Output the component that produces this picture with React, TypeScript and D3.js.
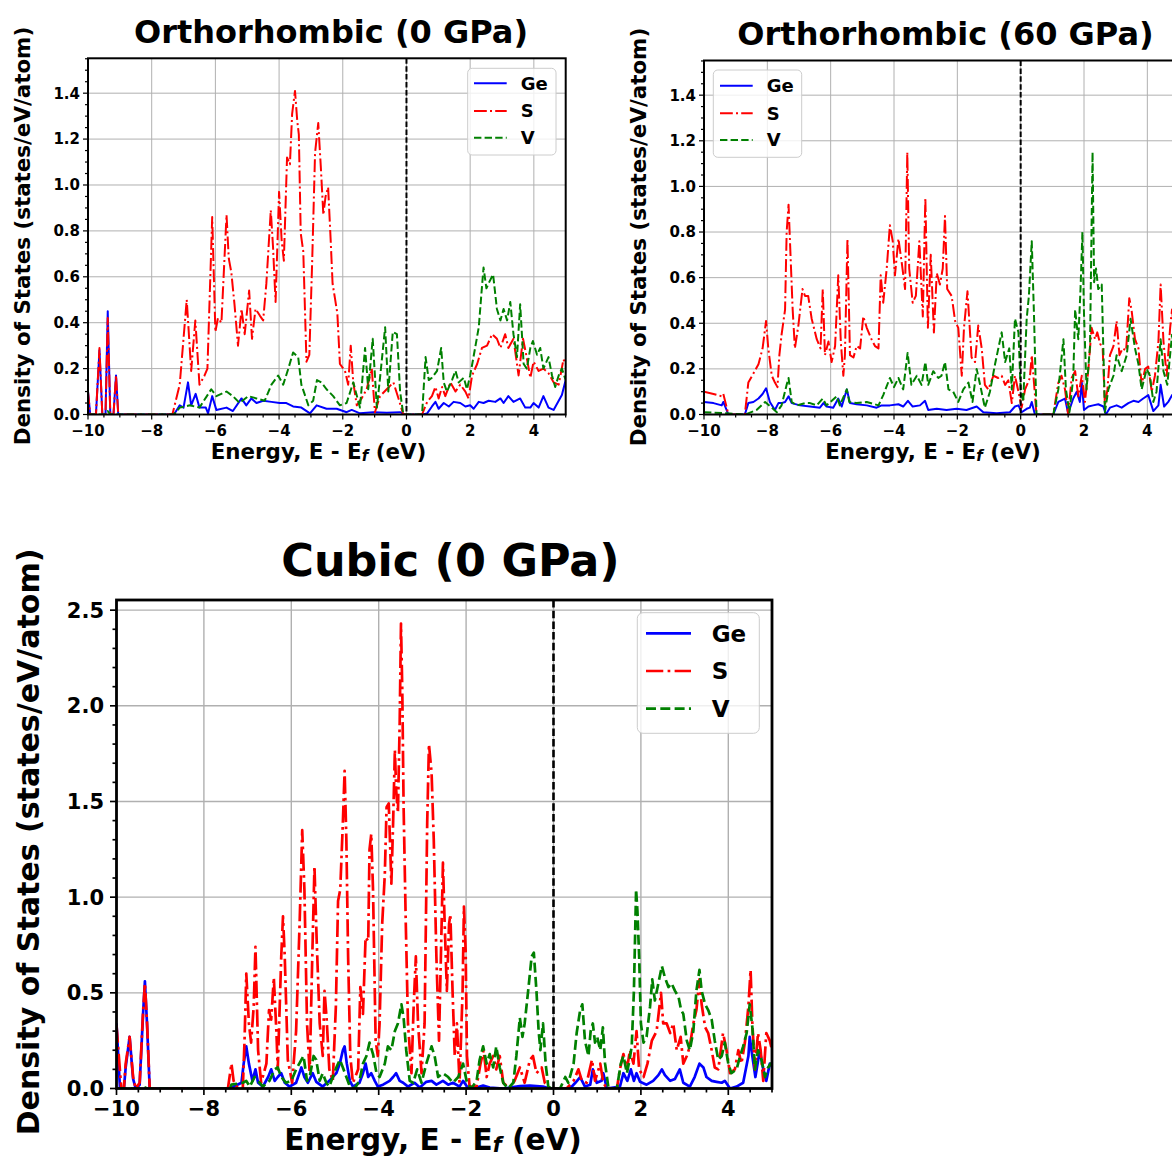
import React from 'react';
import * as d3 from 'd3';

type Pt = [number, number];

// ---- Orthorhombic (0 GPa) ----
const ortho0Ge: Pt[] = [
  [-10, 0.1], [-9.93, 0], [-9.75, 0], [-9.64, 0.28], [-9.55, 0], [-9.45, 0], [-9.38, 0.45], [-9.3, 0], [-9.2, 0],
  [-9.12, 0.17], [-9.05, 0], [-7.3, 0], [-7.12, 0.04], [-7.0, 0.03], [-6.86, 0.14], [-6.76, 0.04], [-6.62, 0.09],
  [-6.5, 0.03], [-6.3, 0.03], [-6.23, 0.005], [-6.1, 0.08], [-5.97, 0.02], [-5.65, 0.03], [-5.45, 0.015], [-5.18, 0.07],
  [-5.03, 0.04], [-4.87, 0.07], [-4.71, 0.05], [-4.5, 0.06], [-4.24, 0.055], [-3.98, 0.05], [-3.77, 0.05], [-3.56, 0.035],
  [-3.3, 0.03], [-3.03, 0.005], [-2.82, 0.04], [-2.51, 0.025], [-2.19, 0.025], [-1.88, 0.01], [-1.72, 0.02], [-1.46, 0.005],
  [-1.04, 0.01], [-0.62, 0.008], [-0.2, 0.01], [-0.05, 0], [0.49, 0], [0.65, 0.005], [0.8, 0.035], [0.91, 0.055],
  [1.01, 0.025], [1.17, 0.05], [1.33, 0.035], [1.48, 0.055], [1.69, 0.05], [1.85, 0.035], [2.0, 0.04], [2.11, 0.025],
  [2.27, 0.055], [2.42, 0.05], [2.58, 0.06], [2.79, 0.055], [2.95, 0.07], [3.05, 0.05], [3.2, 0.08], [3.36, 0.055],
  [3.57, 0.07], [3.73, 0.03], [3.89, 0.03], [3.99, 0.05], [4.15, 0.03], [4.3, 0.08], [4.46, 0.03], [4.62, 0.02],
  [4.78, 0.06], [4.88, 0.085], [5.0, 0.15],
];
const ortho0S: Pt[] = [
  [-10, 0.1], [-9.93, 0], [-9.75, 0], [-9.64, 0.29], [-9.55, 0], [-9.45, 0], [-9.38, 0.42], [-9.3, 0], [-9.2, 0],
  [-9.12, 0.17], [-9.05, 0], [-7.35, 0], [-7.12, 0.13], [-6.9, 0.5], [-6.76, 0.19], [-6.63, 0.41], [-6.5, 0.13],
  [-6.34, 0.17], [-6.25, 0.2], [-6.1, 0.86], [-6.0, 0.36], [-5.92, 0.42], [-5.81, 0.4], [-5.65, 0.87], [-5.58, 0.68],
  [-5.5, 0.62], [-5.4, 0.48], [-5.29, 0.3], [-5.18, 0.46], [-5.08, 0.35], [-4.94, 0.54], [-4.85, 0.33], [-4.74, 0.46],
  [-4.6, 0.43], [-4.5, 0.41], [-4.4, 0.57], [-4.26, 0.89], [-4.19, 0.73], [-4.11, 0.49], [-4.0, 0.97], [-3.92, 0.76],
  [-3.85, 0.67], [-3.75, 1.12], [-3.66, 1.09], [-3.59, 1.31], [-3.5, 1.41], [-3.43, 1.28], [-3.38, 1.22], [-3.32, 0.79],
  [-3.24, 0.71], [-3.14, 0.23], [-3.05, 0.26], [-2.96, 0.67], [-2.87, 1.14], [-2.77, 1.27], [-2.69, 1.08], [-2.61, 0.87],
  [-2.54, 0.95], [-2.46, 0.99], [-2.38, 0.76], [-2.32, 0.57], [-2.25, 0.51], [-2.17, 0.44], [-2.09, 0.22], [-1.93, 0.19],
  [-1.83, 0.13], [-1.75, 0.3], [-1.67, 0.14], [-1.56, 0.04], [-1.41, 0.07], [-1.25, 0.11], [-1.09, 0.2], [-0.99, 0.01],
  [-0.83, 0.08], [-0.62, 0.11], [-0.41, 0.14], [-0.25, 0.07], [-0.1, 0], [0.49, 0], [0.65, 0.055], [0.8, 0.08],
  [0.91, 0.12], [1.01, 0.07], [1.12, 0.12], [1.22, 0.08], [1.38, 0.14], [1.54, 0.1], [1.69, 0.13], [1.85, 0.1],
  [1.95, 0.07], [2.06, 0.17], [2.22, 0.22], [2.37, 0.29], [2.53, 0.3], [2.69, 0.35], [2.84, 0.33], [2.95, 0.29],
  [3.1, 0.35], [3.2, 0.29], [3.36, 0.33], [3.52, 0.17], [3.66, 0.33], [3.76, 0.26], [3.89, 0.16], [3.99, 0.23],
  [4.15, 0.19], [4.3, 0.2], [4.46, 0.18], [4.62, 0.14], [4.78, 0.13], [4.93, 0.24], [5.0, 0.22],
];
const ortho0V: Pt[] = [
  [-10, 0], [-9.45, 0], [-9.38, 0.015], [-9.3, 0], [-7.3, 0], [-7.12, 0.03], [-6.8, 0.04], [-6.5, 0.03], [-6.13, 0.11],
  [-5.97, 0.08], [-5.65, 0.1], [-5.45, 0.08], [-5.24, 0.05], [-4.97, 0.08], [-4.71, 0.07], [-4.45, 0.06], [-4.24, 0.13],
  [-4.03, 0.17], [-3.87, 0.13], [-3.71, 0.2], [-3.56, 0.27], [-3.4, 0.25], [-3.3, 0.13], [-3.08, 0.04], [-2.93, 0.06],
  [-2.81, 0.15], [-2.67, 0.14], [-2.51, 0.11], [-2.3, 0.08], [-2.09, 0.04], [-1.88, 0.05], [-1.67, 0.14], [-1.46, 0.03],
  [-1.3, 0.29], [-1.2, 0.11], [-1.06, 0.33], [-0.93, 0.03], [-0.83, 0.16], [-0.67, 0.38], [-0.57, 0.1], [-0.43, 0.36],
  [-0.3, 0.35], [-0.2, 0.1], [-0.1, 0], [0.49, 0], [0.6, 0.25], [0.7, 0.15], [0.8, 0.16], [0.96, 0.19], [1.09, 0.29],
  [1.17, 0.14], [1.27, 0.1], [1.43, 0.15], [1.54, 0.19], [1.64, 0.14], [1.8, 0.16], [1.9, 0.11], [2.0, 0.17],
  [2.13, 0.27], [2.27, 0.38], [2.35, 0.52], [2.42, 0.64], [2.51, 0.55], [2.61, 0.58], [2.72, 0.61], [2.84, 0.46],
  [2.95, 0.41], [3.05, 0.46], [3.16, 0.41], [3.26, 0.49], [3.36, 0.35], [3.47, 0.25], [3.57, 0.48], [3.68, 0.22],
  [3.78, 0.2], [3.89, 0.29], [3.97, 0.32], [4.1, 0.26], [4.2, 0.29], [4.3, 0.2], [4.46, 0.25], [4.57, 0.17],
  [4.67, 0.12], [4.78, 0.17], [4.88, 0.2], [5.0, 0.15],
];

// ---- Orthorhombic (60 GPa) ----
const ortho60Ge: Pt[] = [
  [-10, 0.055], [-9.7, 0.05], [-9.44, 0.04], [-9.39, 0.055], [-9.23, 0], [-8.71, 0], [-8.6, 0.05], [-8.44, 0.055],
  [-8.28, 0.07], [-8.15, 0.09], [-8.04, 0.115], [-7.92, 0.055], [-7.76, 0.02], [-7.65, 0.05], [-7.55, 0.05],
  [-7.44, 0.055], [-7.33, 0.08], [-7.23, 0.05], [-6.97, 0.04], [-6.65, 0.035], [-6.34, 0.03], [-6.23, 0.05],
  [-6.13, 0.035], [-5.92, 0.03], [-5.76, 0.07], [-5.65, 0.035], [-5.49, 0.11], [-5.39, 0.05], [-5.18, 0.045],
  [-4.86, 0.04], [-4.55, 0.03], [-4.39, 0.04], [-4.13, 0.04], [-3.86, 0.045], [-3.71, 0.035], [-3.56, 0.06],
  [-3.41, 0.035], [-3.18, 0.04], [-3.02, 0.06], [-2.92, 0.02], [-2.65, 0.025], [-2.34, 0.02], [-2.02, 0.025],
  [-1.71, 0.02], [-1.39, 0.035], [-1.18, 0.01], [-0.76, 0.006], [-0.34, 0.01], [-0.18, 0.035], [-0.07, 0.04],
  [0.03, 0.01], [0.19, 0.025], [0.29, 0.03], [0.35, 0.055], [0.45, 0], [1.03, 0], [1.19, 0.055], [1.4, 0.07],
  [1.5, 0.005], [1.66, 0.07], [1.77, 0.1], [1.87, 0.055], [1.93, 0.14], [2.0, 0.02], [2.14, 0.035], [2.29, 0.04],
  [2.45, 0.045], [2.61, 0.035], [2.69, 0], [2.82, 0.03], [3.03, 0.04], [3.19, 0.03], [3.4, 0.05], [3.56, 0.06],
  [3.72, 0.055], [3.87, 0.07], [4.03, 0.085], [4.19, 0.015], [4.35, 0.04], [4.42, 0.13], [4.53, 0.035], [4.66, 0.055],
  [4.78, 0.085], [5.0, 0.06],
];
const ortho60S: Pt[] = [
  [-10, 0.1], [-9.7, 0.09], [-9.44, 0.08], [-9.39, 0.09], [-9.23, 0], [-8.71, 0], [-8.6, 0.14], [-8.44, 0.18],
  [-8.28, 0.22], [-8.15, 0.29], [-8.04, 0.41], [-7.97, 0.29], [-7.86, 0.17], [-7.76, 0.14], [-7.68, 0.12],
  [-7.62, 0.26], [-7.55, 0.35], [-7.44, 0.46], [-7.39, 0.8], [-7.33, 0.92], [-7.26, 0.67], [-7.2, 0.46], [-7.13, 0.29],
  [-7.02, 0.39], [-6.89, 0.55], [-6.81, 0.52], [-6.71, 0.52], [-6.6, 0.42], [-6.44, 0.33], [-6.32, 0.29], [-6.25, 0.55],
  [-6.18, 0.26], [-6.07, 0.32], [-5.97, 0.23], [-5.86, 0.3], [-5.76, 0.61], [-5.68, 0.32], [-5.6, 0.17], [-5.55, 0.26],
  [-5.47, 0.77], [-5.39, 0.26], [-5.28, 0.25], [-5.18, 0.3], [-5.07, 0.29], [-4.97, 0.43], [-4.86, 0.38], [-4.71, 0.33],
  [-4.6, 0.3], [-4.49, 0.29], [-4.42, 0.61], [-4.34, 0.49], [-4.23, 0.64], [-4.13, 0.83], [-4.04, 0.76], [-3.97, 0.61],
  [-3.86, 0.77], [-3.76, 0.67], [-3.65, 0.55], [-3.58, 1.15], [-3.52, 0.64], [-3.41, 0.49], [-3.31, 0.52], [-3.2, 0.76],
  [-3.09, 0.43], [-3.01, 0.95], [-2.93, 0.38], [-2.84, 0.7], [-2.74, 0.36], [-2.65, 0.62], [-2.55, 0.57], [-2.46, 0.64],
  [-2.39, 0.87], [-2.32, 0.55], [-2.18, 0.52], [-2.07, 0.41], [-1.97, 0.38], [-1.86, 0.17], [-1.79, 0.38], [-1.68, 0.54],
  [-1.55, 0.25], [-1.44, 0.23], [-1.34, 0.39], [-1.23, 0.29], [-1.13, 0.13], [-1.02, 0.11], [-0.86, 0.17], [-0.71, 0.16],
  [-0.6, 0.17], [-0.49, 0.13], [-0.39, 0.15], [-0.28, 0.05], [-0.18, 0.17], [-0.07, 0.1], [0.03, 0.03], [0.14, 0.11],
  [0.29, 0.16], [0.35, 0.26], [0.42, 0.14], [0.5, 0], [1.03, 0], [1.19, 0.14], [1.29, 0.17], [1.4, 0.11], [1.5, 0],
  [1.61, 0.16], [1.72, 0.19], [1.82, 0.08], [1.93, 0.17], [2.03, 0.055], [2.14, 0.2], [2.24, 0.38], [2.35, 0.33],
  [2.42, 0.36], [2.51, 0.31], [2.59, 0.29], [2.66, 0.04], [2.74, 0.11], [2.82, 0.26], [2.93, 0.3], [3.03, 0.41],
  [3.12, 0.26], [3.22, 0.29], [3.33, 0.28], [3.43, 0.51], [3.5, 0.46], [3.61, 0.33], [3.72, 0.29], [3.82, 0.13],
  [3.93, 0.2], [4.03, 0.21], [4.14, 0.1], [4.24, 0.17], [4.35, 0.32], [4.42, 0.57], [4.51, 0.32], [4.61, 0.17],
  [4.72, 0.38], [4.78, 0.46], [4.9, 0.3], [5.0, 0.25],
];
const ortho60V: Pt[] = [
  [-10, 0.01], [-9.28, 0.005], [-8.7, 0], [-8.34, 0.02], [-8.07, 0.055], [-7.86, 0.03], [-7.7, 0.01], [-7.55, 0.04],
  [-7.39, 0.13], [-7.33, 0.16], [-7.23, 0.055], [-7.07, 0.04], [-6.81, 0.05], [-6.65, 0.05], [-6.44, 0.04],
  [-6.25, 0.07], [-6.13, 0.04], [-5.81, 0.08], [-5.71, 0.04], [-5.49, 0.11], [-5.41, 0.055], [-5.18, 0.05],
  [-4.86, 0.055], [-4.49, 0.04], [-4.34, 0.085], [-4.13, 0.16], [-4.0, 0.12], [-3.86, 0.16], [-3.71, 0.11],
  [-3.57, 0.27], [-3.45, 0.13], [-3.28, 0.17], [-3.13, 0.13], [-3.01, 0.23], [-2.92, 0.13], [-2.76, 0.19],
  [-2.6, 0.16], [-2.5, 0.17], [-2.39, 0.23], [-2.28, 0.11], [-2.13, 0.1], [-1.97, 0.055], [-1.81, 0.11], [-1.65, 0.14],
  [-1.52, 0.055], [-1.39, 0.2], [-1.28, 0.13], [-1.13, 0.03], [-0.97, 0.1], [-0.81, 0.22], [-0.6, 0.36], [-0.49, 0.23],
  [-0.36, 0.29], [-0.28, 0.11], [-0.18, 0.42], [-0.07, 0.36], [0.0, 0.11], [0.08, 0.055], [0.19, 0.42], [0.26, 0.52],
  [0.35, 0.76], [0.42, 0.44], [0.5, 0], [1.03, 0], [1.19, 0.11], [1.35, 0.33], [1.43, 0.11], [1.54, 0.01],
  [1.66, 0.16], [1.72, 0.46], [1.82, 0.33], [1.89, 0.55], [1.95, 0.8], [2.0, 0.44], [2.08, 0.11], [2.19, 0.3],
  [2.27, 1.15], [2.32, 0.58], [2.38, 0.64], [2.45, 0.55], [2.56, 0.57], [2.66, 0.01], [2.77, 0.11], [2.93, 0.17],
  [3.03, 0.26], [3.19, 0.19], [3.35, 0.26], [3.47, 0.42], [3.61, 0.29], [3.72, 0.22], [3.82, 0.11], [3.98, 0.2],
  [4.08, 0.17], [4.19, 0.055], [4.29, 0.1], [4.42, 0.33], [4.51, 0.19], [4.63, 0.13], [4.78, 0.35], [4.9, 0.25],
  [5.0, 0.2],
];

// ---- Cubic (0 GPa) ----
const cubicGe: Pt[] = [
  [-10, 0.34], [-9.92, 0], [-9.83, 0], [-9.79, 0.11], [-9.7, 0.27], [-9.62, 0.05], [-9.56, 0], [-9.47, 0.02],
  [-9.39, 0.4], [-9.35, 0.56], [-9.3, 0.33], [-9.24, 0], [-7.41, 0], [-7.14, 0.03], [-7.09, 0.13], [-7.03, 0.22],
  [-6.97, 0.13], [-6.89, 0.04], [-6.82, 0.1], [-6.76, 0.03], [-6.65, 0.01], [-6.53, 0.06], [-6.46, 0.1], [-6.38, 0.04],
  [-6.31, 0.06], [-6.23, 0.08], [-6.15, 0.03], [-6.04, 0.01], [-5.89, 0.03], [-5.77, 0.11], [-5.7, 0.06], [-5.62, 0.03],
  [-5.51, 0.08], [-5.43, 0.035], [-5.28, 0.01], [-5.13, 0.04], [-4.97, 0.08], [-4.89, 0.13], [-4.82, 0.2], [-4.78, 0.22],
  [-4.73, 0.13], [-4.66, 0.04], [-4.59, 0.01], [-4.44, 0.03], [-4.36, 0.08], [-4.3, 0.13], [-4.24, 0.06], [-4.17, 0.08],
  [-4.09, 0.04], [-4.02, 0.01], [-3.9, 0.02], [-3.75, 0.04], [-3.67, 0.06], [-3.6, 0.08], [-3.52, 0.04], [-3.44, 0.03],
  [-3.33, 0.01], [-3.18, 0.03], [-3.06, 0.005], [-2.91, 0.035], [-2.79, 0.04], [-2.68, 0.02], [-2.53, 0.04],
  [-2.41, 0.02], [-2.3, 0.03], [-2.15, 0.01], [-2.07, 0.04], [-1.98, 0.01], [-1.76, 0.005], [-1.61, 0.015],
  [-1.46, 0.005], [-1.15, 0], [-0.77, 0.012], [-0.54, 0.015], [-0.24, 0.01], [-0.08, 0], [0.38, 0], [0.5, 0.03],
  [0.61, 0.06], [0.72, 0.01], [0.84, 0.02], [0.9, 0.1], [0.99, 0.03], [1.1, 0.04], [1.14, 0.08], [1.22, 0],
  [1.52, 0.01], [1.6, 0.08], [1.69, 0.04], [1.77, 0.1], [1.84, 0.04], [1.9, 0.08], [1.98, 0.035], [2.13, 0.02],
  [2.28, 0.04], [2.4, 0.07], [2.48, 0.1], [2.55, 0.07], [2.67, 0.04], [2.78, 0.05], [2.89, 0.1], [2.97, 0.03],
  [3.12, 0.01], [3.23, 0.06], [3.34, 0.13], [3.43, 0.11], [3.5, 0.06], [3.62, 0.04], [3.73, 0.035], [3.85, 0.03],
  [3.92, 0.04], [4.04, 0], [4.19, 0.01], [4.34, 0.03], [4.46, 0.17], [4.49, 0.27], [4.55, 0.17], [4.62, 0.06],
  [4.72, 0.2], [4.8, 0.1], [4.87, 0.04], [4.95, 0.13], [5.0, 0.12],
];
const cubicS: Pt[] = [
  [-10, 0.33], [-9.89, 0], [-9.83, 0], [-9.79, 0.13], [-9.7, 0.27], [-9.62, 0.06], [-9.56, 0], [-9.47, 0.03],
  [-9.39, 0.41], [-9.35, 0.55], [-9.3, 0.34], [-9.24, 0], [-7.45, 0], [-7.37, 0.13], [-7.32, 0.04], [-7.22, 0],
  [-7.11, 0], [-7.07, 0.25], [-7.03, 0.6], [-6.97, 0.34], [-6.92, 0.24], [-6.86, 0.43], [-6.82, 0.74], [-6.76, 0.2],
  [-6.69, 0.03], [-6.57, 0.13], [-6.51, 0.41], [-6.46, 0.36], [-6.4, 0.58], [-6.34, 0.29], [-6.31, 0.1], [-6.23, 0.69],
  [-6.19, 0.9], [-6.15, 0.69], [-6.08, 0.15], [-5.98, 0.03], [-5.89, 0.3], [-5.81, 0.86], [-5.75, 1.35], [-5.7, 1.04],
  [-5.64, 0.34], [-5.58, 0.08], [-5.52, 0.69], [-5.47, 1.16], [-5.42, 0.78], [-5.35, 0.34], [-5.28, 0.17],
  [-5.24, 0.51], [-5.19, 0.36], [-5.13, 0.1], [-5.05, 0.04], [-4.98, 0.43], [-4.93, 0.98], [-4.88, 1.04],
  [-4.82, 1.39], [-4.78, 1.66], [-4.74, 1.3], [-4.7, 0.69], [-4.65, 0.17], [-4.59, 0.03], [-4.47, 0.1], [-4.42, 0.53],
  [-4.36, 0.39], [-4.3, 0.79], [-4.24, 0.77], [-4.21, 1.25], [-4.17, 1.33], [-4.13, 1.04], [-4.07, 0.25],
  [-4.02, 0.17], [-3.98, 0.34], [-3.92, 0.86], [-3.86, 1.12], [-3.82, 1.47], [-3.77, 1.49], [-3.71, 1.07],
  [-3.67, 1.39], [-3.63, 1.77], [-3.6, 1.56], [-3.56, 1.44], [-3.52, 1.91], [-3.49, 2.43], [-3.46, 2.08],
  [-3.43, 1.47], [-3.38, 0.86], [-3.33, 0.34], [-3.25, 0.08], [-3.2, 0.43], [-3.15, 0.69], [-3.1, 0.34], [-3.02, 0.08],
  [-2.95, 0.34], [-2.89, 1.39], [-2.85, 1.8], [-2.79, 1.65], [-2.74, 1.3], [-2.68, 0.69], [-2.62, 0.25], [-2.56, 0.86],
  [-2.53, 1.18], [-2.49, 0.86], [-2.44, 0.51], [-2.39, 0.86], [-2.36, 0.91], [-2.31, 0.51], [-2.26, 0.17],
  [-2.21, 0.34], [-2.15, 0.03], [-2.08, 0.51], [-2.05, 0.95], [-2.01, 0.72], [-1.98, 0.17], [-1.92, 0.01],
  [-1.76, 0.01], [-1.67, 0.13], [-1.6, 0.2], [-1.53, 0.06], [-1.46, 0.13], [-1.38, 0.17], [-1.31, 0.1], [-1.23, 0.17],
  [-1.15, 0.03], [-1.0, 0], [-0.89, 0.04], [-0.77, 0.11], [-0.66, 0.03], [-0.54, 0.15], [-0.47, 0.17], [-0.39, 0.08],
  [-0.27, 0.11], [-0.2, 0.03], [-0.08, 0], [0.3, 0], [0.46, 0.04], [0.57, 0.1], [0.65, 0.04], [0.76, 0.03],
  [0.88, 0.15], [0.95, 0.04], [1.07, 0.13], [1.14, 0.03], [1.22, 0], [1.45, 0], [1.52, 0.1], [1.6, 0.18], [1.68, 0.1],
  [1.75, 0.2], [1.83, 0.13], [1.9, 0.3], [1.96, 0.1], [2.06, 0.06], [2.15, 0.13], [2.25, 0.25], [2.36, 0.3],
  [2.46, 0.5], [2.51, 0.34], [2.59, 0.34], [2.67, 0.29], [2.74, 0.34], [2.82, 0.2], [2.91, 0.27], [2.97, 0.13],
  [3.05, 0.17], [3.12, 0.22], [3.2, 0.34], [3.27, 0.41], [3.34, 0.57], [3.39, 0.44], [3.47, 0.32], [3.54, 0.29],
  [3.62, 0.2], [3.69, 0.11], [3.77, 0.1], [3.88, 0.29], [3.96, 0.2], [4.04, 0.08], [4.15, 0.1], [4.23, 0.2],
  [4.3, 0.13], [4.38, 0.24], [4.46, 0.43], [4.51, 0.62], [4.55, 0.34], [4.61, 0.1], [4.68, 0.29], [4.74, 0.2],
  [4.8, 0.04], [4.87, 0.29], [4.95, 0.25], [5.0, 0.2],
];
const cubicV: Pt[] = [
  [-10, 0], [-9.45, 0], [-9.39, 0.01], [-9.3, 0], [-7.4, 0], [-7.37, 0.02], [-7.11, 0.03], [-7.03, 0.04], [-6.95, 0.01],
  [-6.84, 0.06], [-6.76, 0.04], [-6.65, 0.01], [-6.5, 0.04], [-6.38, 0.1], [-6.31, 0.11], [-6.23, 0.06], [-6.12, 0.03],
  [-6.0, 0.04], [-5.89, 0.1], [-5.77, 0.15], [-5.72, 0.17], [-5.64, 0.04], [-5.58, 0.06], [-5.49, 0.17], [-5.43, 0.15],
  [-5.35, 0.04], [-5.28, 0.08], [-5.2, 0.03], [-5.13, 0.01], [-4.97, 0.11], [-4.89, 0.15], [-4.82, 0.11], [-4.74, 0.06],
  [-4.66, 0.01], [-4.55, 0], [-4.44, 0.04], [-4.36, 0.13], [-4.28, 0.17], [-4.21, 0.24], [-4.13, 0.18], [-4.05, 0.08],
  [-3.98, 0.06], [-3.86, 0.13], [-3.79, 0.22], [-3.71, 0.2], [-3.63, 0.3], [-3.56, 0.34], [-3.48, 0.44], [-3.43, 0.37],
  [-3.37, 0.2], [-3.29, 0.04], [-3.21, 0.03], [-3.12, 0.1], [-3.02, 0.03], [-2.91, 0.13], [-2.79, 0.22], [-2.72, 0.17],
  [-2.64, 0.06], [-2.53, 0.08], [-2.41, 0.06], [-2.3, 0.03], [-2.18, 0.06], [-2.07, 0.13], [-1.98, 0.03], [-1.88, 0],
  [-1.76, 0.04], [-1.69, 0.15], [-1.61, 0.22], [-1.53, 0.13], [-1.46, 0.18], [-1.38, 0.11], [-1.31, 0.22],
  [-1.23, 0.11], [-1.15, 0.03], [-1.04, 0], [-0.92, 0.03], [-0.85, 0.17], [-0.77, 0.37], [-0.71, 0.27], [-0.66, 0.34],
  [-0.58, 0.51], [-0.5, 0.69], [-0.45, 0.71], [-0.39, 0.51], [-0.34, 0.3], [-0.3, 0.2], [-0.24, 0.34], [-0.18, 0.13],
  [-0.12, 0.01], [-0.05, 0], [0.15, 0], [0.27, 0.06], [0.34, 0.03], [0.46, 0.13], [0.53, 0.29], [0.61, 0.41],
  [0.66, 0.44], [0.72, 0.25], [0.8, 0.17], [0.85, 0.3], [0.9, 0.34], [0.95, 0.24], [1.0, 0.27], [1.07, 0.2],
  [1.13, 0.32], [1.18, 0.13], [1.26, 0], [1.45, 0], [1.54, 0.13], [1.6, 0.17], [1.68, 0.08], [1.74, 0.15], [1.79, 0.22],
  [1.84, 0.51], [1.89, 1.04], [1.92, 0.93], [1.96, 0.69], [2.0, 0.34], [2.06, 0.24], [2.13, 0.27], [2.21, 0.43],
  [2.26, 0.57], [2.32, 0.46], [2.4, 0.55], [2.48, 0.64], [2.55, 0.58], [2.63, 0.53], [2.7, 0.55], [2.78, 0.51],
  [2.86, 0.48], [2.92, 0.41], [2.97, 0.39], [3.05, 0.25], [3.12, 0.2], [3.2, 0.3], [3.27, 0.51], [3.34, 0.62],
  [3.39, 0.51], [3.47, 0.44], [3.54, 0.41], [3.62, 0.36], [3.69, 0.25], [3.77, 0.15], [3.85, 0.17], [3.92, 0.24],
  [4.0, 0.13], [4.07, 0.08], [4.19, 0.1], [4.27, 0.17], [4.34, 0.22], [4.42, 0.29], [4.49, 0.44], [4.55, 0.32],
  [4.61, 0.1], [4.68, 0.2], [4.76, 0.15], [4.84, 0.06], [4.91, 0.11], [4.97, 0.13], [5.0, 0.12],
];

const seriesNames = ['Ge', 'S', 'V'];
const seriesColors = ['blue', 'red', 'green'];
const xTicks = [-10, -8, -6, -4, -2, 0, 2, 4];
const orthoYTicks = [0, 0.2, 0.4, 0.6, 0.8, 1.0, 1.2, 1.4];
const cubicYTicks = [0, 0.5, 1.0, 1.5, 2.0, 2.5];

const FONT = "'DejaVu Sans', sans-serif";
const fmtTick = (v: number, digits: number) => v.toFixed(digits).replace('-', '\u2212');

type PanelProps = {
  id: string;
  box: { x0: number; y0: number; x1: number; y1: number };
  yMax: number;
  yTicks: number[];
  yMinorStep: number;
  data: Pt[][];
  title: string;
  titlePos: [number, number];
  titleSize: number;
  yLabelPos: [number, number];
  yLabelSize: number;
  xLabelPos: [number, number];
  xLabelSize: number;
  tickSize: number;
  tickLabelX: number;
  tickLabelY: number;
  tickLen: [number, number];
  lw: number;
  spineW: number;
  zeroDash: string;
  zeroW: number;
  legend: { x: number; y: number; w: number; h: number; lx0: number; lx1: number; rows: number[]; tx: number; font: number };
};

function Panel(p: PanelProps) {
  const { x0, y0, x1, y1 } = p.box;
  const xs = d3.scaleLinear().domain([-10, 5]).range([x0, x1]);
  const ys = d3.scaleLinear().domain([0, p.yMax]).range([y1, y0]);
  const line = d3.line<Pt>().x((d) => xs(d[0])).y((d) => ys(d[1]));
  // matplotlib-like dash patterns for '-', '-.', '--'
  const dashes = ['none', `${6.4 * p.lw},${1.6 * p.lw},${p.lw},${1.6 * p.lw}`, `${3.7 * p.lw},${1.6 * p.lw}`];
  const xMinor = d3.range(-10, 5.001, 0.5).filter((v) => !xTicks.includes(v));
  const yMinor = d3.range(0, p.yMax, p.yMinorStep).filter((v) => !p.yTicks.some((t) => Math.abs(t - v) < 1e-6));
  const [majLen, minLen] = p.tickLen;
  const tw = p.spineW * 0.6;
  const sub = p.xLabelSize * 0.1;

  return (
    <g>
      <defs>
        <clipPath id={`clip-${p.id}`}>
          <rect x={x0} y={y0} width={x1 - x0} height={y1 - y0} />
        </clipPath>
      </defs>
      {/* grid */}
      <g stroke="#b0b0b0" strokeWidth={p.spineW * 0.5}>
        {xTicks.map((t) => (
          <line key={`gx${t}`} x1={xs(t)} x2={xs(t)} y1={y0} y2={y1} />
        ))}
        {p.yTicks.map((t) => (
          <line key={`gy${t}`} x1={x0} x2={x1} y1={ys(t)} y2={ys(t)} />
        ))}
      </g>
      {/* curves */}
      <g clipPath={`url(#clip-${p.id})`} fill="none" strokeLinejoin="round">
        {p.data.map((d, i) => (
          <path key={i} d={line(d) || ''} stroke={seriesColors[i]} strokeWidth={p.lw} strokeDasharray={dashes[i]} />
        ))}
        <line x1={xs(0)} x2={xs(0)} y1={y0} y2={y1} stroke="black" strokeWidth={p.zeroW} strokeDasharray={p.zeroDash} />
      </g>
      {/* ticks */}
      <g stroke="black" strokeWidth={tw}>
        {xTicks.map((t) => (
          <line key={`tx${t}`} x1={xs(t)} x2={xs(t)} y1={y1} y2={y1 + majLen} />
        ))}
        {xMinor.map((t) => (
          <line key={`mx${t}`} x1={xs(t)} x2={xs(t)} y1={y1} y2={y1 + minLen} />
        ))}
        {p.yTicks.map((t) => (
          <line key={`ty${t}`} x1={x0 - majLen} x2={x0} y1={ys(t)} y2={ys(t)} />
        ))}
        {yMinor.map((t) => (
          <line key={`my${t}`} x1={x0 - minLen} x2={x0} y1={ys(t)} y2={ys(t)} />
        ))}
      </g>
      <rect x={x0} y={y0} width={x1 - x0} height={y1 - y0} fill="none" stroke="black" strokeWidth={p.spineW} />
      {/* tick labels */}
      <g fontFamily={FONT} fontWeight="bold" fontSize={p.tickSize} fill="black">
        {xTicks.map((t) => (
          <text key={`lx${t}`} x={xs(t)} y={p.tickLabelY} textAnchor="middle">
            {fmtTick(t, 0)}
          </text>
        ))}
        {p.yTicks.map((t) => (
          <text key={`ly${t}`} x={p.tickLabelX} y={ys(t) + p.tickSize * 0.36} textAnchor="end">
            {fmtTick(t, 1)}
          </text>
        ))}
      </g>
      {/* title and axis labels */}
      <text x={p.titlePos[0]} y={p.titlePos[1]} textAnchor="middle" fontFamily={FONT} fontWeight="bold" fontSize={p.titleSize}>
        {p.title}
      </text>
      <text
        transform={`translate(${p.yLabelPos[0]},${p.yLabelPos[1]}) rotate(-90)`}
        textAnchor="middle"
        fontFamily={FONT}
        fontWeight="bold"
        fontSize={p.yLabelSize}
      >
        Density of States (states/eV/atom)
      </text>
      <text x={p.xLabelPos[0]} y={p.xLabelPos[1]} textAnchor="middle" fontFamily={FONT} fontWeight="bold" fontSize={p.xLabelSize}>
        Energy, E - E
        <tspan fontStyle="italic" fontSize={p.xLabelSize * 0.7} dy={sub}>
          f
        </tspan>
        <tspan dy={-sub}> (eV)</tspan>
      </text>
      {/* legend */}
      <g>
        <rect
          x={p.legend.x}
          y={p.legend.y}
          width={p.legend.w}
          height={p.legend.h}
          rx={p.legend.font * 0.25}
          fill="white"
          fillOpacity={0.8}
          stroke="#cccccc"
          strokeWidth={1}
        />
        {seriesNames.map((name, i) => (
          <g key={name}>
            <line
              x1={p.legend.lx0}
              x2={p.legend.lx1}
              y1={p.legend.rows[i]}
              y2={p.legend.rows[i]}
              stroke={seriesColors[i]}
              strokeWidth={p.lw}
              strokeDasharray={dashes[i]}
            />
            <text
              x={p.legend.tx}
              y={p.legend.rows[i] + p.legend.font * 0.36}
              fontFamily={FONT}
              fontWeight="bold"
              fontSize={p.legend.font}
            >
              {name}
            </text>
          </g>
        ))}
      </g>
    </g>
  );
}

export default function App() {
  return (
    <div style={{ position: 'absolute', left: 0, top: 0, background: 'white' }}>
      <svg width={1172} height={1158} style={{ display: 'block', background: 'white' }}>
        <Panel
          id="p1"
          box={{ x0: 88, y0: 58.3, x1: 565.7, y1: 414.5 }}
          yMax={1.552}
          yTicks={orthoYTicks}
          yMinorStep={0.05}
          data={[ortho0Ge, ortho0S, ortho0V]}
          title="Orthorhombic (0 GPa)"
          titlePos={[331, 43]}
          titleSize={32}
          yLabelPos={[30, 236]}
          yLabelSize={21.4}
          xLabelPos={[318.5, 459]}
          xLabelSize={21.4}
          tickSize={15}
          tickLabelX={80}
          tickLabelY={436}
          tickLen={[5, 3]}
          lw={2}
          spineW={2}
          zeroDash="5.5,2.4"
          zeroW={2}
          legend={{ x: 467.7, y: 68.3, w: 88.3, h: 86.7, lx0: 474, lx1: 506.7, rows: [83.3, 111, 137.7], tx: 520.7, font: 18 }}
        />
        <Panel
          id="p2"
          box={{ x0: 704, y0: 60.5, x1: 1179, y1: 414.5 }}
          yMax={1.552}
          yTicks={orthoYTicks}
          yMinorStep={0.05}
          data={[ortho60Ge, ortho60S, ortho60V]}
          title="Orthorhombic (60 GPa)"
          titlePos={[945.5, 45]}
          titleSize={32}
          yLabelPos={[646, 237]}
          yLabelSize={21.4}
          xLabelPos={[933, 459]}
          xLabelSize={21.4}
          tickSize={15}
          tickLabelX={696}
          tickLabelY={436}
          tickLen={[5, 3]}
          lw={2}
          spineW={2}
          zeroDash="5.5,2.4"
          zeroW={2}
          legend={{ x: 713.3, y: 70, w: 88.4, h: 87.3, lx0: 720, lx1: 752.7, rows: [85.7, 113.3, 140], tx: 766.7, font: 18 }}
        />
        <Panel
          id="p3"
          box={{ x0: 116.5, y0: 600, x1: 772, y1: 1088.5 }}
          yMax={2.553}
          yTicks={cubicYTicks}
          yMinorStep={0.1}
          data={[cubicGe, cubicS, cubicV]}
          title="Cubic (0 GPa)"
          titlePos={[450.5, 576]}
          titleSize={44.5}
          yLabelPos={[39, 842]}
          yLabelSize={30}
          xLabelPos={[433, 1149.5]}
          xLabelSize={29.5}
          tickSize={21}
          tickLabelX={104}
          tickLabelY={1116}
          tickLen={[6.5, 4]}
          lw={2.7}
          spineW={2.8}
          zeroDash="7.5,3.2"
          zeroW={2.6}
          legend={{ x: 637.3, y: 612.7, w: 122, h: 120.6, lx0: 646, lx1: 691, rows: [633.3, 671, 708.7], tx: 711.7, font: 23 }}
        />
      </svg>
    </div>
  );
}
